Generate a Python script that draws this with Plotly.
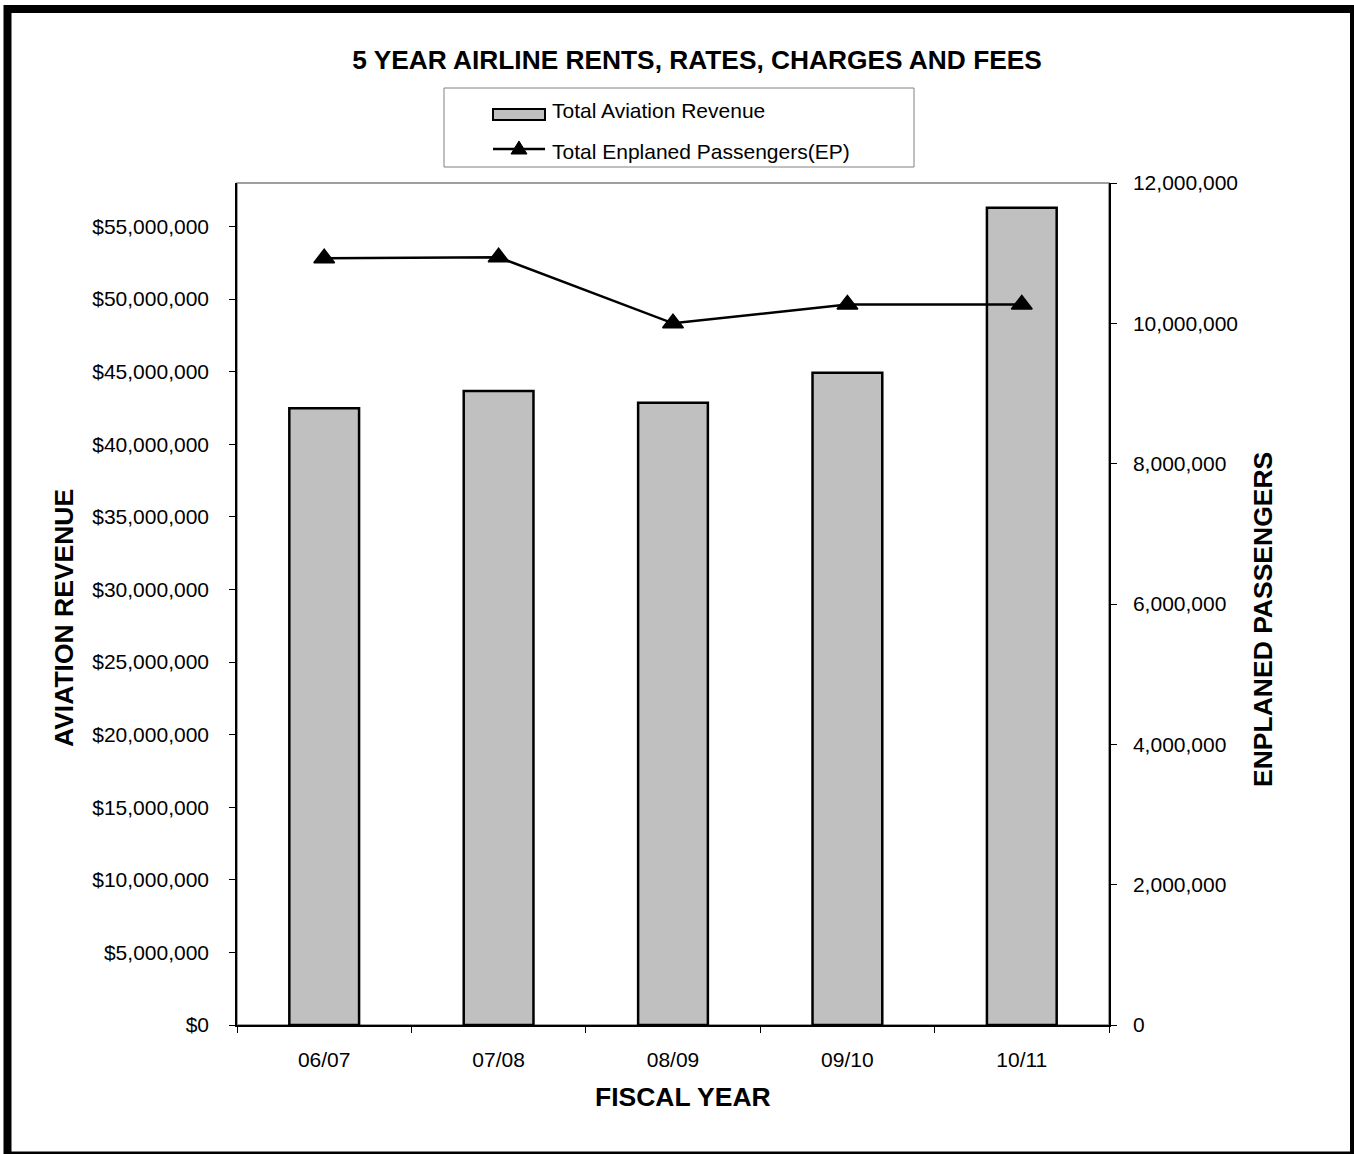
import plotly.graph_objects as go

# Fiscal years and series values
fiscal_years = ["06/07", "07/08", "08/09", "09/10", "10/11"]
aviation_revenue = [42_480_000, 43_670_000, 42_870_000, 44_930_000, 56_300_000]
enplaned_passengers = [10_927_000, 10_941_000, 10_000_000, 10_270_000, 10_270_000]

series_names = ["Total Aviation Revenue", "Total Enplaned Passengers(EP)"]

W, H = 1354, 1154
L, R, T, B = 237, 245, 183, 129
PW, PH = W - L - R, H - T - B

FONT = "Liberation Sans, Arial, sans-serif"
BAR_FILL = "#c0c0c0"


def px_x(px):
    return (px - L) / PW


def px_y(py):
    return (H - B - py) / PH


fig = go.Figure()

fig.add_trace(go.Bar(
    x=fiscal_years, y=aviation_revenue,
    name=series_names[0],
    marker=dict(color=BAR_FILL, line=dict(color="black", width=2.5)),
    width=0.4, yaxis="y", showlegend=False,
))
fig.add_trace(go.Scatter(
    x=fiscal_years, y=enplaned_passengers,
    name=series_names[1],
    mode="lines+markers",
    line=dict(color="black", width=2.5),
    marker=dict(symbol="triangle-up", size=18, color="black",
                line=dict(color="black", width=1.5)),
    yaxis="y2", showlegend=False,
))

tick_font = dict(family=FONT, size=21, color="black")
common = dict(showgrid=False, zeroline=False, fixedrange=True)
tick_style = dict(ticklen=6, tickcolor="black", tickwidth=1)

fig.update_layout(
    width=W, height=H,
    margin=dict(l=L, r=R, t=T, b=B),
    paper_bgcolor="white", plot_bgcolor="white",
    font=dict(family=FONT, color="black"),
    title=dict(
        text="<b>5 YEAR AIRLINE RENTS, RATES, CHARGES AND FEES</b>",
        font=dict(family=FONT, size=26.3, color="black"),
        xref="container", yref="container",
        x=697 / W, y=1 - 60 / H, xanchor="center", yanchor="middle",
    ),
    xaxis=dict(
        type="category", categoryorder="array", categoryarray=fiscal_years,
        range=[-0.5, 4.5], showline=True, linecolor="black", linewidth=1.5,
        ticks="outside", tickson="boundaries", tickfont=tick_font,
        ticklabelstandoff=15, **tick_style, **common,
    ),
    xaxis2=dict(
        overlaying="x", anchor="y", side="bottom", type="linear",
        range=[-0.5, 4.5], tickmode="array",
        tickvals=[i - 0.5 for i in range(len(fiscal_years) + 1)],
        ticks="inside", showticklabels=False, showline=False,
        **tick_style, **common,
    ),
    yaxis=dict(
        range=[0, 58_000_000], tick0=0, dtick=5_000_000, tickformat="$,.0f",
        showline=True, linecolor="black", linewidth=1.5,
        ticks="outside", tickfont=tick_font, ticklabelstandoff=16,
        **tick_style, **common,
    ),
    yaxis3=dict(
        overlaying="y", anchor="x", side="left",
        range=[0, 58_000_000], tick0=0, dtick=5_000_000,
        ticks="inside", showticklabels=False, showline=False,
        **tick_style, **common,
    ),
    yaxis2=dict(
        overlaying="y", anchor="x", side="right",
        range=[0, 12_000_000], tick0=0, dtick=2_000_000, tickformat=",d",
        showline=True, linecolor="black", linewidth=1.5,
        ticks="outside", tickfont=tick_font, ticklabelstandoff=12,
        **tick_style, **common,
    ),
    yaxis4=dict(
        overlaying="y", anchor="x", side="right",
        range=[0, 12_000_000], tick0=0, dtick=2_000_000,
        ticks="inside", showticklabels=False, showline=False,
        **tick_style, **common,
    ),
    showlegend=False,
)

# Axis titles
title_font = dict(family=FONT, size=26.5, color="black")
fig.add_annotation(
    text="<b>AVIATION REVENUE</b>", textangle=-90,
    xref="paper", yref="paper", x=px_x(64), y=px_y(618),
    xanchor="center", yanchor="middle", showarrow=False, font=title_font,
)
fig.add_annotation(
    text="<b>ENPLANED PASSENGERS</b>", textangle=-90,
    xref="paper", yref="paper", x=px_x(1263), y=px_y(620),
    xanchor="center", yanchor="middle", showarrow=False, font=title_font,
)
fig.add_annotation(
    text="<b>FISCAL YEAR</b>",
    xref="paper", yref="paper", x=px_x(683), y=px_y(1097),
    xanchor="center", yanchor="middle", showarrow=False, font=title_font,
)

# Plot-area frame
fig.add_shape(type="rect", xref="paper", yref="paper", x0=0, y0=0, x1=1, y1=1,
              line=dict(color="#808080", width=1.5), layer="below")

# Legend box with its two keys
fig.add_shape(type="rect", xref="paper", yref="paper",
              x0=px_x(444), x1=px_x(914), y0=px_y(167), y1=px_y(88),
              line=dict(color="#808080", width=1), fillcolor="white", layer="below")
fig.add_shape(type="rect", xref="paper", yref="paper",
              x0=px_x(493), x1=px_x(545), y0=px_y(120), y1=px_y(109),
              line=dict(color="black", width=2), fillcolor=BAR_FILL)
fig.add_shape(type="line", xref="paper", yref="paper",
              x0=px_x(493), x1=px_x(545), y0=px_y(149), y1=px_y(149),
              line=dict(color="black", width=2.5))
tri = [(511, 154), (527, 154), (519, 141)]
fig.add_shape(
    type="path", xref="paper", yref="paper",
    path="M " + " L ".join(f"{px_x(a):.5f},{px_y(b):.5f}" for a, b in tri) + " Z",
    line=dict(color="black", width=1), fillcolor="black",
)
legend_font = dict(family=FONT, size=21, color="black")
for name, row_y in zip(series_names, [111, 151]):
    fig.add_annotation(
        text=name, xref="paper", yref="paper", x=px_x(550), y=px_y(row_y),
        xanchor="left", yanchor="middle", showarrow=False, font=legend_font,
    )

# Outer chart border
fig.add_shape(type="rect", xref="paper", yref="paper",
              x0=px_x(7.5), x1=px_x(1354), y0=px_y(1155.5), y1=px_y(9),
              line=dict(color="black", width=8))

fig.write_html("out.html")
